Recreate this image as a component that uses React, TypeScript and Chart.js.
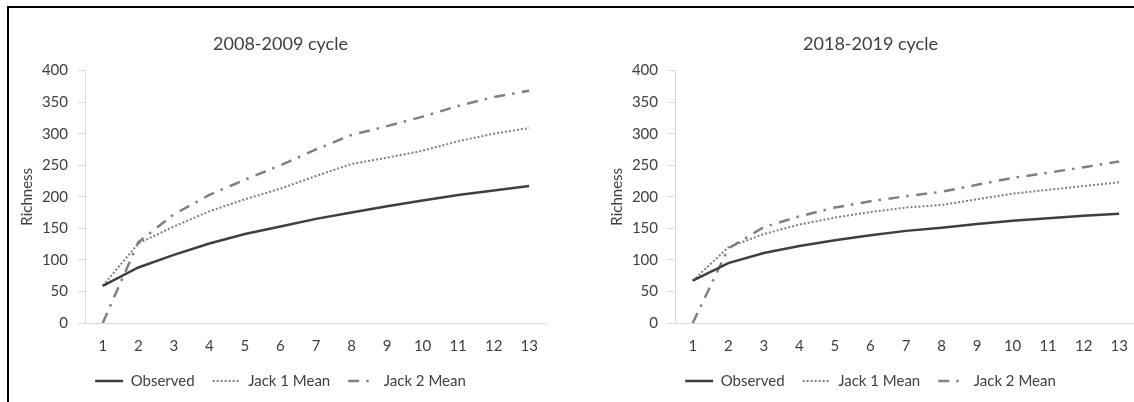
import React, { useEffect, useRef } from 'react';
import { Chart, registerables } from 'chart.js';

Chart.register(...registerables);

// ---- data ----
const categories = ['1', '2', '3', '4', '5', '6', '7', '8', '9', '10', '11', '12', '13'];

const observed0809 = [59, 88, 108, 126, 141, 153, 165, 175, 185, 194, 203, 210, 217];
const jack1Mean0809 = [59, 126, 153, 177, 196, 213, 233, 252, 262, 273, 288, 300, 309];
const jack2Mean0809 = [0, 128, 172, 203, 227, 250, 275, 298, 312, 327, 344, 358, 368];

const observed1819 = [67, 95, 111, 122, 131, 139, 146, 151, 157, 162, 166, 170, 173];
const jack1Mean1819 = [67, 120, 141, 156, 167, 176, 183, 187, 196, 205, 211, 217, 223];
const jack2Mean1819 = [0, 118, 152, 169, 183, 193, 201, 208, 219, 230, 238, 247, 256];

const seriesNames = ['Observed', 'Jack 1 Mean', 'Jack 2 Mean'];
const yMin = 0;
const yMax = 400;
const yStep = 50;
const yTitle = 'Richness';

// ---- style ----
const FONT = 'Lato, "Open Sans", "DejaVu Sans", sans-serif';
const TEXT = '#404040';
const AXIS = '#d9d9d9';
const CANVAS_W = 540;
const CANVAS_H = 392;
const AREA_BOTTOM = 313;
const LEGEND_CENTER = 371;
const LEGEND_PAD = 18;
const LEGEND_FONT = 15;

const legendShift = {
  id: 'legendShift',
  afterLayout(chart: any) {
    const lg = chart.legend;
    if (!lg) return;
    const cur = lg.top + LEGEND_PAD + LEGEND_FONT / 2;
    const dy = LEGEND_CENTER - cur;
    lg.top += dy;
    lg.bottom += dy;
  },
};

type PanelProps = {
  title: string;
  obs: number[];
  j1: number[];
  j2: number[];
  left: number;
};

function Panel({ title, obs, j1, j2, left }: PanelProps) {
  const ref = useRef<HTMLCanvasElement>(null);
  useEffect(() => {
    const tickFont = { family: FONT, size: 15 };
    const chart = new Chart(ref.current as HTMLCanvasElement, {
      type: 'line',
      data: {
        labels: categories,
        datasets: [
          {
            label: seriesNames[0],
            data: obs,
            borderColor: '#3f3f3f',
            backgroundColor: '#3f3f3f',
            borderWidth: 2.5,
            pointRadius: 0,
            tension: 0,
            fill: false,
          },
          {
            label: seriesNames[1],
            data: j1,
            borderColor: '#7f7f7f',
            backgroundColor: '#7f7f7f',
            borderWidth: 2,
            borderDash: [2, 2],
            pointRadius: 0,
            tension: 0,
            fill: false,
          },
          {
            label: seriesNames[2],
            data: j2,
            borderColor: '#808080',
            backgroundColor: '#808080',
            borderWidth: 2.5,
            borderDash: [11, 7, 2.5, 7.5],
            pointRadius: 0,
            tension: 0,
            fill: false,
          },
        ],
      },
      options: {
        animation: false,
        responsive: false,
        maintainAspectRatio: false,
        events: [],
        layout: { padding: { left: 0, right: 3, top: 0, bottom: 0 } },
        plugins: {
          title: {
            display: true,
            text: title,
            color: TEXT,
            font: { family: FONT, size: 18, weight: 'normal' },
            padding: { top: 23, bottom: 16 },
          },
          legend: {
            position: 'bottom',
            labels: {
              usePointStyle: true,
              pointStyle: 'line',
              pointStyleWidth: 28,
              boxHeight: LEGEND_FONT,
              padding: LEGEND_PAD,
              color: TEXT,
              font: { family: FONT, size: LEGEND_FONT },
              generateLabels: (c: any) => {
                const items = (Chart.defaults as any).plugins.legend.labels.generateLabels(c);
                items.forEach((it: any) => {
                  const ds: any = c.data.datasets[it.datasetIndex];
                  it.lineDash = ds.borderDash || [];
                  it.lineWidth = ds.borderWidth;
                  it.strokeStyle = ds.borderColor;
                  it.fillStyle = ds.borderColor;
                  it.pointStyle = 'line';
                });
                return items;
              },
            },
          },
          tooltip: { enabled: false },
        },
        scales: {
          x: {
            offset: true,
            grid: { display: true, drawOnChartArea: false, drawTicks: false },
            border: { display: true, color: AXIS, width: 1 },
            ticks: {
              color: TEXT,
              font: tickFont,
              padding: 14,
              maxRotation: 0,
              autoSkip: false,
            },
            afterFit: (s: any) => {
              const lh = s.chart.legend ? s.chart.legend.height : 0;
              s.height = CANVAS_H - AREA_BOTTOM - lh;
            },
          },
          y: {
            min: yMin,
            max: yMax,
            ticks: { stepSize: yStep, color: TEXT, font: tickFont, padding: 10 },
            grid: { drawOnChartArea: false, drawTicks: true, tickLength: 7, color: AXIS },
            border: { display: true, color: AXIS, width: 1 },
            title: {
              display: true,
              text: yTitle,
              color: TEXT,
              font: { family: FONT, size: 15 },
              padding: { top: 6, bottom: 0 },
            },
            afterFit: (s: any) => {
              s.width = 73;
            },
          },
        },
      } as any,
      plugins: [legendShift],
    });
    return () => chart.destroy();
  }, []);
  return (
    <canvas
      ref={ref}
      width={CANVAS_W}
      height={CANVAS_H}
      style={{ position: 'absolute', left, top: 10, width: CANVAS_W, height: CANVAS_H }}
    />
  );
}

export default function App() {
  return (
    <div
      style={{
        position: 'absolute',
        left: 0,
        top: 0,
        width: 1134,
        height: 402,
        overflow: 'hidden',
        background: '#fff',
      }}
    >
      <div
        style={{
          position: 'absolute',
          left: 7,
          top: 6,
          width: 2000,
          height: 2000,
          borderTop: '2px solid #000',
          borderLeft: '2px solid #000',
        }}
      />
      <Panel title="2008-2009 cycle" obs={observed0809} j1={jack1Mean0809} j2={jack2Mean0809} left={12} />
      <Panel title="2018-2019 cycle" obs={observed1819} j1={jack1Mean1819} j2={jack2Mean1819} left={602} />
    </div>
  );
}
